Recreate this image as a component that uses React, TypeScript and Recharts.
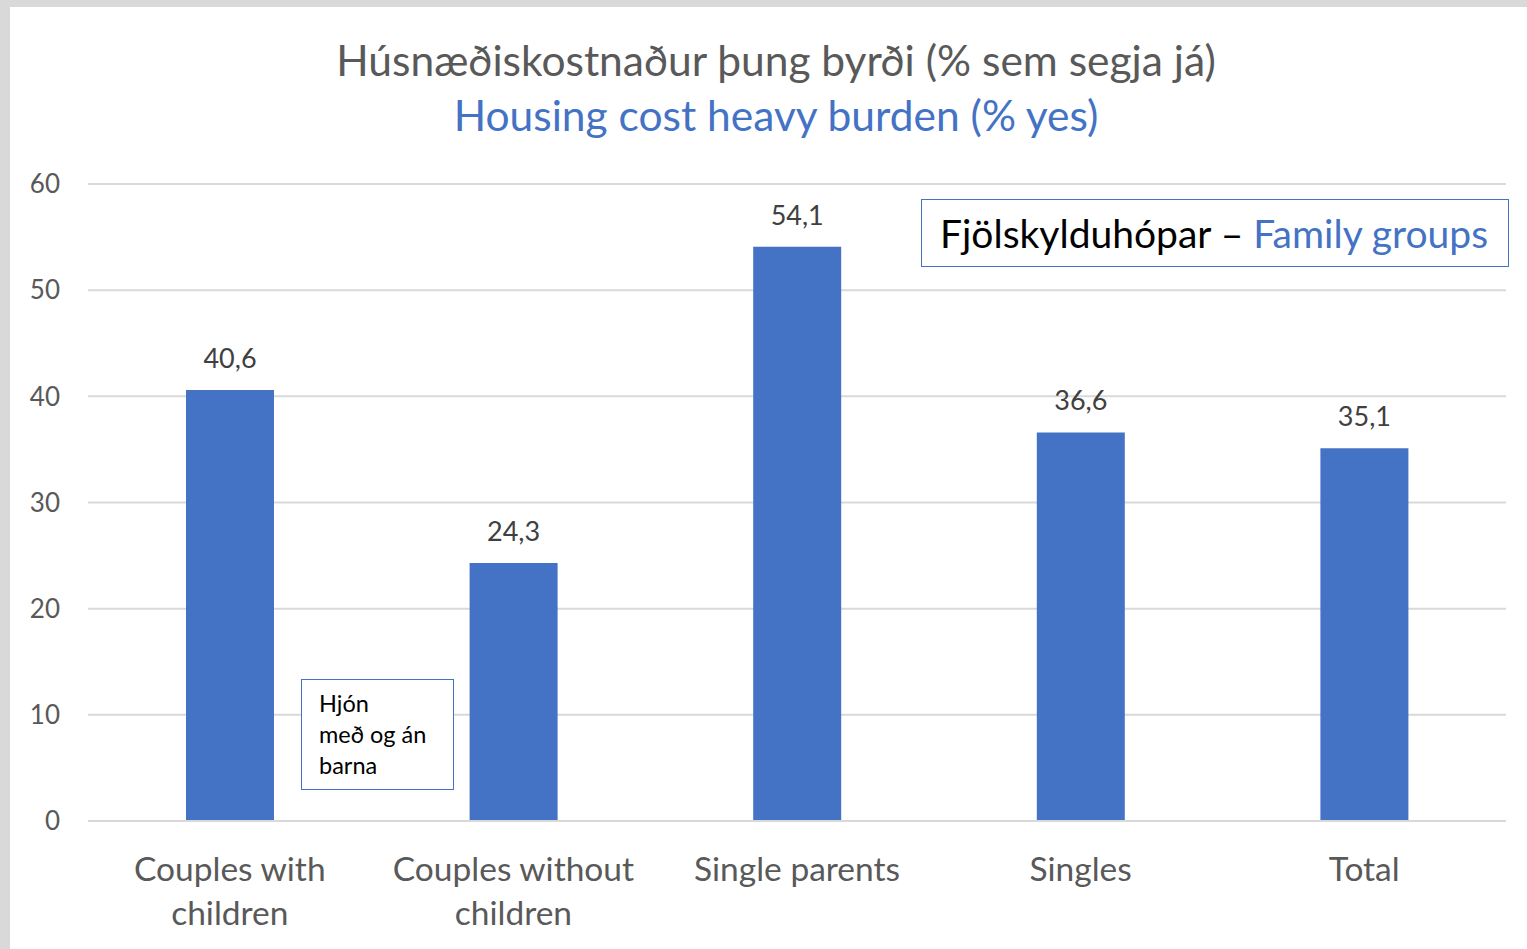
import React from 'react';
import { BarChart, Bar, XAxis, YAxis, CartesianGrid, LabelList } from 'recharts';

const categories = ['Couples with|children', 'Couples without|children', 'Single parents', 'Singles', 'Total'];
const values = [40.6, 24.3, 54.1, 36.6, 35.1];
const yTicks = [0, 10, 20, 30, 40, 50, 60];

const data = categories.map((name, i) => ({ name, value: values[i] }));

const FONT = 'Lato, "Open Sans", sans-serif';
const BLUE = '#4472C4';
const GREY_TEXT = '#595959';

const CategoryTick = (props: any) => {
  const { x, y, payload } = props;
  const lines = String(payload.value).split('|');
  return (
    <g transform={`translate(${x},${y})`}>
      {lines.map((line: string, i: number) => (
        <text
          key={i}
          x={0}
          y={52 + i * 44}
          textAnchor="middle"
          fill={GREY_TEXT}
          fontSize={33.5}
          fontFamily={FONT}
        >
          {line}
        </text>
      ))}
    </g>
  );
};

export default function App() {
  return (
    <div style={{ position: 'absolute', left: 0, top: 0, width: 1527, height: 949, background: '#d9d9d9', overflow: 'hidden' }}>
      <div style={{ position: 'absolute', left: 10, top: 7, width: 1517, height: 942, background: '#fff', fontFamily: FONT }}>
        <div style={{ position: 'absolute', left: 0, top: 28, width: 1532, textAlign: 'center', fontSize: 42.5, color: GREY_TEXT, lineHeight: '50px' }}>
          Húsnæðiskostnaður þung byrði (% sem segja já)
        </div>
        <div style={{ position: 'absolute', left: 0, top: 83, width: 1532, textAlign: 'center', fontSize: 42.5, color: BLUE, lineHeight: '50px' }}>
          Housing cost heavy burden (% yes)
        </div>
        <BarChart
          width={1517}
          height={942}
          data={data}
          margin={{ top: 177, right: 21, left: 0, bottom: 0 }}
        >
          <CartesianGrid vertical={false} stroke="#d9d9d9" strokeWidth={2} />
          <XAxis
            dataKey="name"
            height={128}
            axisLine={{ stroke: '#d9d9d9', strokeWidth: 2 }}
            tickLine={false}
            tick={<CategoryTick />}
            interval={0}
          />
          <YAxis
            width={78}
            domain={[0, 60]}
            ticks={yTicks}
            axisLine={false}
            tickLine={false}
            tickSize={0}
            tickMargin={28}
            tick={{ fill: GREY_TEXT, fontSize: 26, fontFamily: FONT }}
          />
          <Bar dataKey="value" fill={BLUE} barSize={88} isAnimationActive={false}>
            <LabelList
              dataKey="value"
              position="top"
              offset={22}
              fill="#404040"
              fontSize={27}
              fontFamily={FONT}
              formatter={(v: any) => String(v).replace('.', ',')}
            />
          </Bar>
        </BarChart>
        <div
          style={{
            position: 'absolute', left: 911, top: 192, width: 588, height: 68,
            border: `1.5px solid ${BLUE}`, boxSizing: 'border-box', background: '#fff',
            fontSize: 39, lineHeight: '66px', paddingLeft: 18, whiteSpace: 'nowrap', color: '#000',
          }}
        >
          Fjölskylduhópar – <span style={{ color: BLUE }}>Family groups</span>
        </div>
        <div
          style={{
            position: 'absolute', left: 291, top: 672, width: 153, height: 111,
            border: `1.5px solid ${BLUE}`, boxSizing: 'border-box', background: '#fff',
            fontSize: 23.5, lineHeight: '31px', padding: '8px 0 0 17px', color: '#000',
          }}
        >
          Hjón<br />með og án<br />barna
        </div>
      </div>
    </div>
  );
}
